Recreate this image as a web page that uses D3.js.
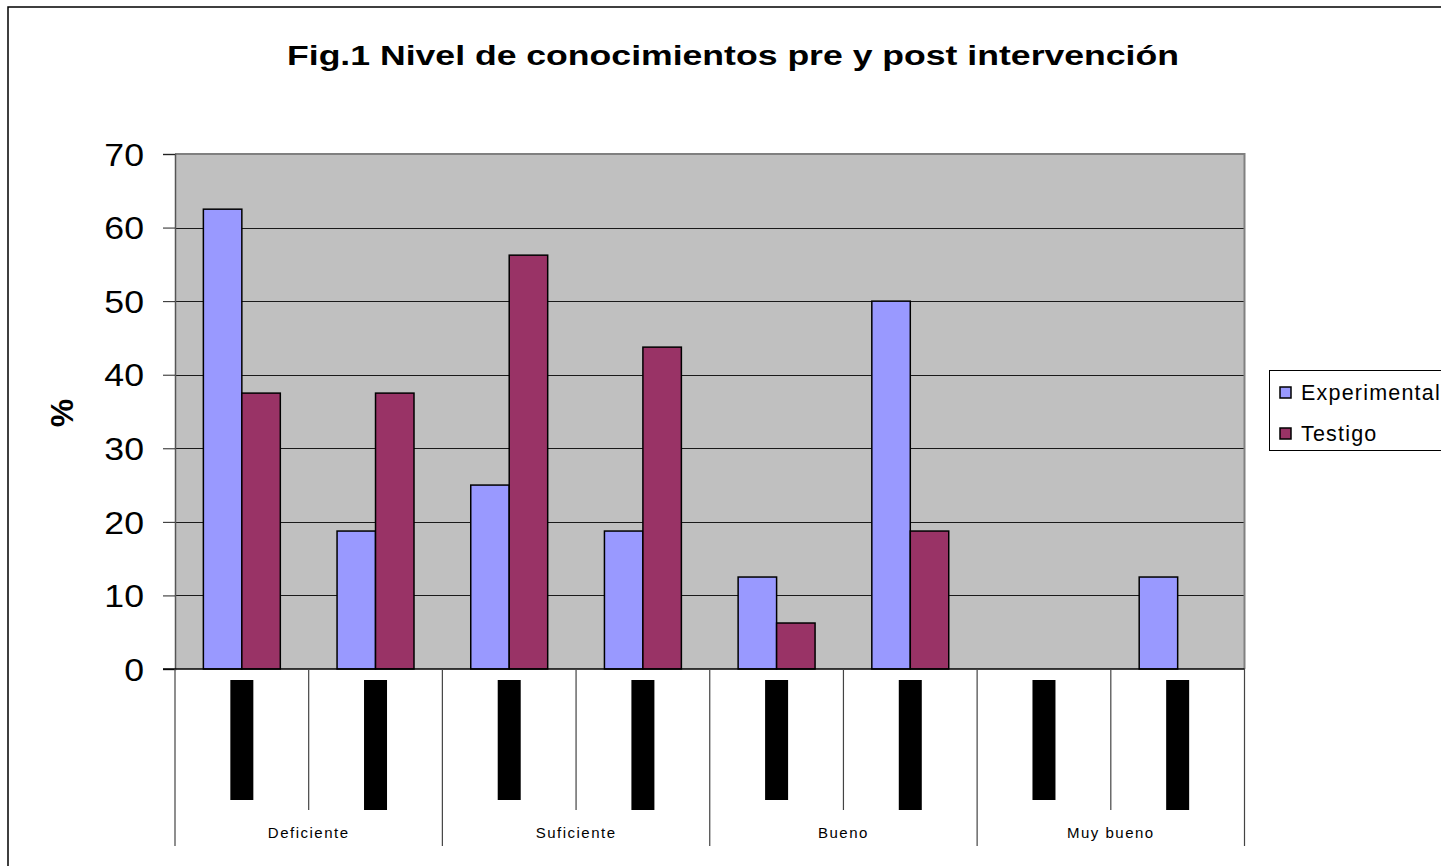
<!DOCTYPE html>
<html><head><meta charset="utf-8">
<script src="https://cdn.jsdelivr.net/npm/d3@7"></script>
<style>
html,body{margin:0;padding:0;background:#fff;}
svg{display:block;font-family:Arial,"Liberation Sans",sans-serif;}
</style></head>
<body>
<svg id="chart" width="1441" height="866"></svg>
<script>
const title = "Fig.1 Nivel de conocimientos pre y post intervención";
const yLabel = "%";
const categories = ["Deficiente", "Suficiente", "Bueno", "Muy bueno"];
const phases = ["Pre", "Post"];
const seriesNames = ["Experimental", "Testigo"];
const experimental = [62.5, 18.75, 25, 18.75, 12.5, 50, 0, 12.5];
const testigo = [37.5, 37.5, 56.25, 43.75, 6.25, 18.75, 0, 0];
const yTicks = [0, 10, 20, 30, 40, 50, 60, 70];
const colors = ["#9999FF", "#993366"];

const svg = d3.select("#chart");
const L = 175, R = 1244.5, T = 154, B = 669;

// outer chart frame
svg.append("rect").attr("x", 8).attr("y", 7).attr("width", 1500).attr("height", 1000)
  .attr("fill", "#fff").attr("stroke", "#000").attr("stroke-width", 1.5);

// title
svg.append("text").attr("x", 733).attr("y", 65).attr("text-anchor", "middle")
  .attr("font-size", 28.5).attr("font-weight", "bold")
  .attr("textLength", 892).attr("lengthAdjust", "spacingAndGlyphs").text(title);

const y = d3.scaleLinear().domain([0, 70]).range([B, T]);
const slots = d3.range(8).map(i => categories[Math.floor(i / 2)] + "|" + phases[i % 2]);
const x = d3.scaleBand().domain(slots).range([L, R]).paddingInner(0.4245).paddingOuter(0.2122);
const xs = d3.scaleBand().domain(seriesNames).range([0, x.bandwidth()]);
const xCat = d3.scaleBand().domain(categories).range([L, R]);

// plot background
svg.append("rect").attr("x", L).attr("y", T).attr("width", R - L).attr("height", B - T)
  .attr("fill", "#C0C0C0");

// grid lines
svg.append("g").selectAll("line").data(yTicks.filter(d => d > 0 && d < 70)).join("line")
  .attr("x1", L).attr("x2", R).attr("y1", d => Math.round(y(d)) + 0.5).attr("y2", d => Math.round(y(d)) + 0.5)
  .attr("stroke", "#1a1a1a").attr("stroke-width", 1);

// plot border top/right
svg.append("path").attr("d", `M${L},${T}H${R}V${B}`).attr("fill", "none")
  .attr("stroke", "#808080").attr("stroke-width", 2);

// bars
const barData = [];
slots.forEach((s, i) => {
  barData.push({slot: s, series: seriesNames[0], v: experimental[i]});
  barData.push({slot: s, series: seriesNames[1], v: testigo[i]});
});
svg.append("g").selectAll("rect").data(barData.filter(d => d.v > 0)).join("rect")
  .attr("x", d => x(d.slot) + xs(d.series))
  .attr("y", d => y(d.v))
  .attr("width", xs.bandwidth())
  .attr("height", d => y(0) - y(d.v))
  .attr("fill", d => colors[seriesNames.indexOf(d.series)])
  .attr("stroke", "#000").attr("stroke-width", 1.5);

// y axis
const yAxis = d3.axisLeft(y).tickValues(yTicks).tickSize(12).tickPadding(18);
const gy = svg.append("g").attr("transform", `translate(${L},0)`).call(yAxis);
gy.select(".domain").attr("stroke", "#555").attr("stroke-width", 1.5);
gy.selectAll(".tick line").attr("stroke", "#222");
gy.selectAll(".tick text").attr("font-size", 31).attr("font-family", "Arial, 'Liberation Sans', sans-serif")
  .attr("fill", "#000").attr("dy", "0.36em").attr("x", 0)
  .attr("transform", "translate(-31,0) scale(1.15,1)");

// y label
svg.append("text").attr("transform", "translate(73,413) rotate(-90)")
  .attr("text-anchor", "middle").attr("font-size", 32).attr("font-weight", "bold").text(yLabel);

// x axis line
svg.append("line").attr("x1", L - 12).attr("x2", R).attr("y1", B).attr("y2", B)
  .attr("stroke", "#000").attr("stroke-width", 1.5);

// category separators (outer)
const outerEdges = categories.map(c => xCat(c)).concat([R]);
svg.append("g").selectAll("line").data(outerEdges).join("line")
  .attr("x1", d => d).attr("x2", d => d).attr("y1", B).attr("y2", 846)
  .attr("stroke", "#444").attr("stroke-width", 1.2);
// inner separators between phases
svg.append("g").selectAll("line").data(categories).join("line")
  .attr("x1", c => xCat(c) + xCat.bandwidth() / 2).attr("x2", c => xCat(c) + xCat.bandwidth() / 2)
  .attr("y1", B).attr("y2", 810)
  .attr("stroke", "#444").attr("stroke-width", 1.2);

// phase labels (rendered as solid black blocks in the original)
svg.append("g").selectAll("rect").data(slots).join("rect")
  .attr("x", s => x(s) + x.bandwidth() / 2 - 11.5)
  .attr("y", 680)
  .attr("width", 23)
  .attr("height", (s, i) => i % 2 === 0 ? 120 : 130)
  .attr("fill", "#000");

// category labels
svg.append("g").selectAll("text").data(categories).join("text")
  .attr("x", c => xCat(c) + xCat.bandwidth() / 2).attr("y", 838)
  .attr("text-anchor", "middle").attr("font-size", 15).attr("letter-spacing", 1.5)
  .text(c => c);

// legend
const lg = svg.append("g");
lg.append("rect").attr("x", 1269.5).attr("y", 370.5).attr("width", 200).attr("height", 80)
  .attr("fill", "#fff").attr("stroke", "#000").attr("stroke-width", 1);
seriesNames.forEach((n, i) => {
  lg.append("rect").attr("x", 1280).attr("y", 387 + i * 41).attr("width", 11).attr("height", 11)
    .attr("fill", colors[i]).attr("stroke", "#000").attr("stroke-width", 1.5);
  lg.append("text").attr("x", 1301).attr("y", 400 + i * 41).attr("font-size", 21.5)
    .attr("letter-spacing", 1.2).text(n);
});
</script>
</body></html>
